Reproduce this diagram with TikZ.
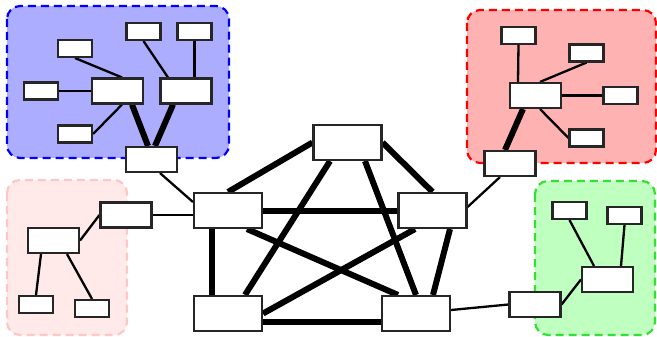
\documentclass[tikz,border=0pt]{standalone}
\pgfdeclarelayer{bg}
\pgfdeclarelayer{edges}
\pgfsetlayers{bg,edges,main}
\tikzset{
  box/.style={draw=black!85, fill=white, line width=2.1pt, inner sep=0pt, rectangle},
  sbox/.style={box, minimum width=34pt, minimum height=17pt},
  mbox/.style={box, minimum width=51pt, minimum height=25pt},
  lbox/.style={box, minimum width=68pt, minimum height=35pt},
  thin/.style={line width=2.3pt, black},
  thick/.style={line width=6pt, black},
  grp/.style={line width=2.2pt, dash pattern=on 8pt off 5pt, rounded corners=13pt},
}
\begin{document}
\begin{tikzpicture}[x=1pt,y=-1pt]
\useasboundingbox (0,0) rectangle (657,337);
% groups
\begin{pgfonlayer}{bg}
\draw[grp, draw=blue, fill=blue!32] (7,6) rectangle (229,158);
\draw[grp, draw=red, fill=red!30] (467,10) rectangle (656,163);
\draw[grp, draw=pink!90, fill=pink!35] (7,180) rectangle (127,335);
\draw[grp, draw=green!85!black!80, fill=green!25] (535,181) rectangle (655,335);
\end{pgfonlayer}
% blue nodes
\node[sbox] (A1) at (75,48.5) {};
\node[sbox] (A2) at (143.5,31.5) {};
\node[sbox] (A3) at (194.5,31.5) {};
\node[sbox] (A4) at (41,91) {};
\node[mbox] (A5) at (117.5,91) {};
\node[mbox] (A6) at (186,91) {};
\node[sbox] (A7) at (75,134) {};
\node[mbox] (A8) at (151.5,159.5) {};
% red nodes
\node[sbox] (R1) at (518.5,35.5) {};
\node[sbox] (R2) at (586.5,53) {};
\node[mbox] (R3) at (535.5,95.5) {};
\node[sbox] (R4) at (620.5,95.5) {};
\node[sbox] (R5) at (586.5,138) {};
\node[mbox] (R6) at (510,163.5) {};
% pink nodes
\node[mbox] (P1) at (53.5,240.5) {};
\node[mbox] (P2) at (126,215) {};
\node[sbox] (P3) at (36,304.5) {};
\node[sbox] (P4) at (92,308.5) {};
% green nodes
\node[sbox] (G1) at (569.5,210.5) {};
\node[sbox] (G2) at (624.5,215.5) {};
\node[mbox] (G3) at (607.5,279.5) {};
\node[mbox] (G4) at (535,304.5) {};
% main nodes
\node[lbox] (M0) at (347.5,142.5) {};
\node[lbox] (M1) at (228,210.5) {};
\node[lbox] (M2) at (432.5,210.5) {};
\node[lbox] (M3) at (228,313.5) {};
\node[lbox] (M4) at (416,313.5) {};
\begin{pgfonlayer}{edges}
% blue edges
\draw[thin] (A1.south) -- ([xshift=4.5pt]A5.north);
\draw[thin] (A2.south) -- ([xshift=-18pt]A6.north);
\draw[thin] (A3.south) -- ([xshift=8.5pt]A6.north);
\draw[thin] (A4.east) -- (A5.west);
\draw[thin] (A7.east) -- ([xshift=4.5pt]A5.south);
\draw[thick] ([xshift=14.5pt]A5.south) -- ([xshift=-3.5pt]A8.north);
\draw[thick] ([xshift=-13pt]A6.south) -- ([xshift=3.5pt]A8.north);
% red edges
\draw[thin] (R1.south) -- ([xshift=-17.5pt]R3.north);
\draw[thin] (R2.south) -- ([xshift=4.5pt]R3.north);
\draw[thin] (R3.east) -- (R4.west);
\draw[thin] ([xshift=4.5pt]R3.south) -- (R5.west);
\draw[thick] ([xshift=-12.5pt]R3.south) -- ([xshift=-5pt]R6.north);
% pink edges
\draw[thin] (P1.east) -- (P2.west);
\draw[thin] ([xshift=-12.5pt]P1.south) -- (P3.north);
\draw[thin] ([xshift=13.5pt]P1.south) -- (P4.north);
\draw[thin] (P2.east) -- (P2.east -| M1.west);
% green edges
\draw[thin] (G1.south) -- ([xshift=-13.5pt]G3.north);
\draw[thin] (G2.south) -- ([xshift=13.5pt]G3.north);
\draw[thin] (G3.west) -- (G4.east);
\draw[thin] (G4.west) -- ([yshift=3.5pt]M4.east);
% cross-group thin edges
\draw[thin] ([xshift=8.5pt]A8.south) -- ([yshift=8.5pt]M1.west);
\draw[thin] ([yshift=3.5pt]M2.east) -- ([xshift=-10pt]R6.south);
% main thick edges
\draw[thick] (M0.west) -- (M1.north);
\draw[thick] (M0.east) -- (M2.north);
\draw[thick] ([xshift=-17.5pt]M0.south) -- ([xshift=17pt]M3.north);
\draw[thick] ([xshift=17.5pt]M0.south) -- (M4.north);
\draw[thick] (M1.east) -- (M2.west);
\draw[thick] ([xshift=-16pt]M1.south) -- ([xshift=-16pt]M3.north);
\draw[thick] ([xshift=19pt]M1.south) -- ([xshift=-18pt]M4.north);
\draw[thick] ([xshift=-17.5pt]M2.south) -- (M3.east);
\draw[thick] ([xshift=17.5pt]M2.south) -- ([xshift=17pt]M4.north);
\draw[thick] ([yshift=-8.5pt]M3.east) -- ([yshift=-8.5pt]M4.west);
\end{pgfonlayer}
\end{tikzpicture}
\end{document}
